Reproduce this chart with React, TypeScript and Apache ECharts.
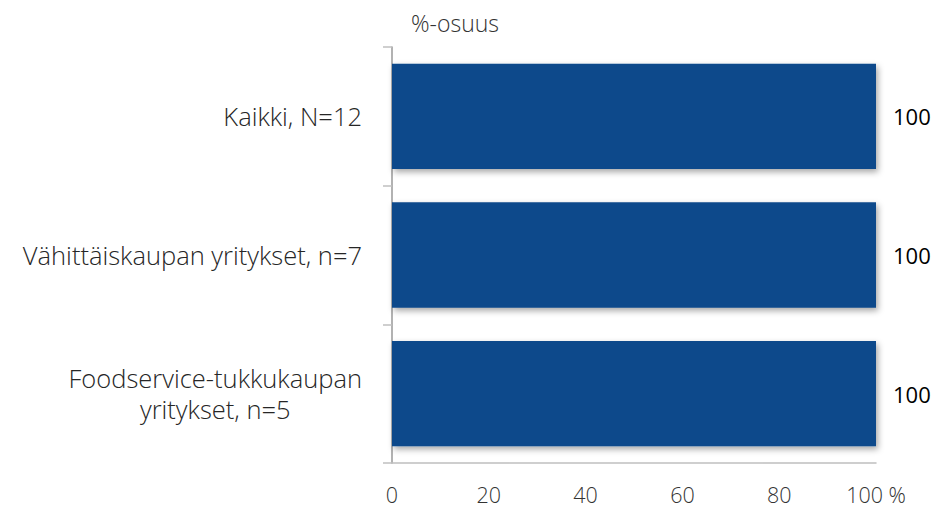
import React, { useEffect, useRef } from "react";
import * as echarts from "echarts";

const categories = ["Kaikki, N=12", "Vähittäiskaupan yritykset, n=7", "Foodservice-tukkukaupan\nyritykset, n=5"];
const values = [100, 100, 100];
const xTicks = [0, 20, 40, 60, 80, 100];
const unitTitle = "%-osuus";

const FONT = "Open Sans";

export default function App() {
  const ref = useRef<HTMLDivElement>(null);
  useEffect(() => {
    if (!ref.current) return;
    const chart = echarts.init(ref.current, undefined, { renderer: "svg" });
    chart.setOption({
      animation: false,
      textStyle: { fontFamily: FONT },
      title: {
        text: unitTitle,
        left: 406,
        top: 5,
        textStyle: { fontFamily: FONT, fontWeight: 300, fontSize: 23, color: "#333", lineHeight: 26 },
      },
      grid: { left: 392, right: 58, top: 47, bottom: 46, containLabel: false },
      xAxis: {
        type: "value",
        min: 0,
        max: 100,
        interval: 20,
        axisLine: { show: true, lineStyle: { color: "#bfbfbf", width: 1.5 } },
        axisTick: { show: false },
        splitLine: { show: false },
        axisLabel: {
          margin: 21,
          fontFamily: FONT,
          fontWeight: 300,
          fontSize: 21.5,
          lineHeight: 20,
          color: "#333",
          formatter: (v: number) => (v === xTicks[xTicks.length - 1] ? v + " %" : String(v)),
        },
      },
      yAxis: {
        type: "category",
        inverse: true,
        data: categories,
        axisLine: { show: true, lineStyle: { color: "#999", width: 1.5 } },
        axisTick: { show: true, length: 9, lineStyle: { color: "#bfbfbf", width: 1.5 } },
        axisLabel: {
          margin: 30,
          fontFamily: FONT,
          fontWeight: 300,
          fontSize: 25.5,
          color: "#262626",
          formatter: (v: string) =>
            v
              .split("\n")
              .map((l) => "{c|" + l + "}")
              .join("\n"),
          rich: {
            c: { align: "center", fontFamily: FONT, fontWeight: 300, fontSize: 25.5, color: "#262626", lineHeight: 31 },
          },
        },
      },
      series: [
        {
          type: "bar",
          data: values,
          barCategoryGap: "24%",
          itemStyle: {
            color: "#0d4a8b",
            shadowColor: "rgba(0,0,0,0.35)",
            shadowBlur: 6,
            shadowOffsetX: 2,
            shadowOffsetY: 3,
          },
          label: {
            show: true,
            position: "right",
            distance: 17,
            fontFamily: FONT,
            fontSize: 22,
            color: "#000",
          },
        },
      ],
    });
    return () => chart.dispose();
  }, []);
  return <div ref={ref} style={{ width: 934, height: 509, position: "absolute", left: 0, top: 0 }} />;
}
